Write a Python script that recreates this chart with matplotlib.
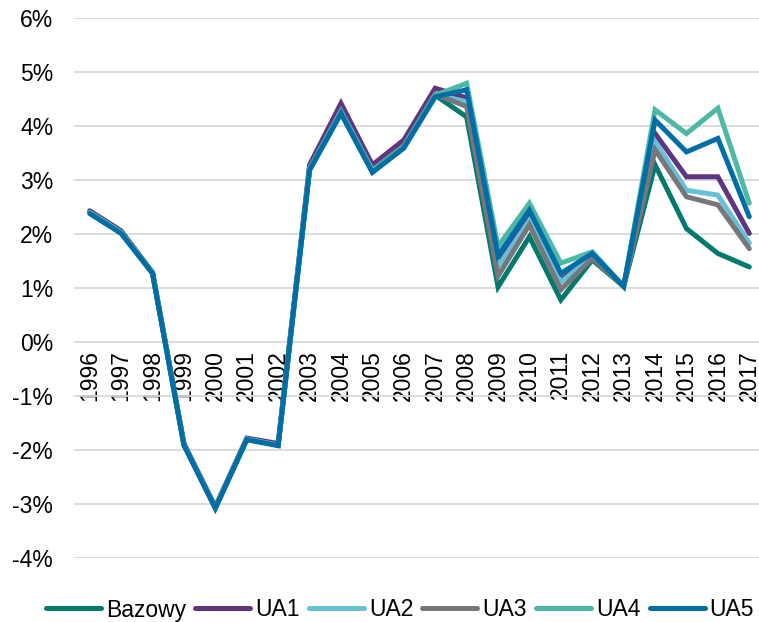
import matplotlib
matplotlib.use("Agg")
import matplotlib.pyplot as plt
from matplotlib.ticker import FuncFormatter

plt.rcParams["font.family"] = ["Liberation Sans", "DejaVu Sans"]

years = [str(y) for y in range(1996, 2018)]

bazowy = [2.40, 2.03, 1.28, -1.90, -3.07, -1.80, -1.91, 3.20, 4.26, 3.16, 3.61, 4.57,
          4.17, 1.02, 1.95, 0.78, 1.52, 1.03, 3.28, 2.10, 1.64, 1.39]
ua1 = [2.43, 2.06, 1.29, -1.88, -3.05, -1.78, -1.88, 3.28, 4.42, 3.28, 3.74, 4.70,
       4.52, 1.45, 2.30, 1.15, 1.60, 1.03, 3.86, 3.06, 3.06, 2.01]
ua2 = [2.40, 2.03, 1.28, -1.90, -3.07, -1.80, -1.91, 3.21, 4.27, 3.17, 3.62, 4.58,
       4.45, 1.40, 2.25, 1.11, 1.58, 1.03, 3.71, 2.81, 2.72, 1.83]
ua3 = [2.40, 2.03, 1.28, -1.90, -3.07, -1.80, -1.91, 3.22, 4.28, 3.19, 3.64, 4.59,
       4.36, 1.22, 2.17, 0.97, 1.55, 1.03, 3.56, 2.69, 2.54, 1.73]
ua4 = [2.40, 2.03, 1.28, -1.90, -3.07, -1.80, -1.91, 3.20, 4.26, 3.17, 3.61, 4.57,
       4.79, 1.77, 2.57, 1.46, 1.67, 1.03, 4.30, 3.86, 4.33, 2.57]
ua5 = [2.38, 2.01, 1.27, -1.91, -3.08, -1.81, -1.92, 3.18, 4.23, 3.14, 3.59, 4.54,
       4.67, 1.60, 2.44, 1.27, 1.64, 1.03, 4.11, 3.52, 3.77, 2.32]

series = [
    ("Bazowy", bazowy, "#007a6c"),
    ("UA1", ua1, "#5f3582"),
    ("UA2", ua2, "#66c1d7"),
    ("UA3", ua3, "#76767b"),
    ("UA4", ua4, "#4db8a6"),
    ("UA5", ua5, "#006ea6"),
]

fig = plt.figure(figsize=(7.59, 6.22), dpi=100)
ax = fig.add_axes([74 / 759, 1 - 558 / 622, (765 - 74) / 759, (558 - 18) / 622])

x = list(range(len(years)))
for name, vals, col in series:
    ax.plot(x, vals, color=col, lw=3.6, label=name, solid_capstyle="round",
            solid_joinstyle="miter")

ax.set_ylim(-4, 6)
ax.set_xlim(-0.5, len(years) - 0.5)
ax.set_yticks(range(-4, 7))
ax.yaxis.set_major_formatter(FuncFormatter(lambda v, p: f"{v:.0f}%"))
ax.grid(axis="y", color="#d9d9d9", lw=1.3)
ax.set_axisbelow(True)
for s in ax.spines.values():
    s.set_visible(False)

ax.set_xticks(x)
ax.set_xticklabels(years)
ax.spines["bottom"].set_position(("data", 0))
ax.tick_params(axis="both", length=0, labelsize=16.5)
ax.tick_params(axis="x", pad=6, labelrotation=90)
ax.tick_params(axis="y", pad=15)

leg = fig.legend(loc="center", bbox_to_anchor=(400 / 759, 1 - 610 / 622), ncol=6,
                 frameon=False, fontsize=16.5, handlelength=2.4, handletextpad=0.22,
                 columnspacing=0.4, borderpad=0)

fig.savefig("out.png", dpi=100)
